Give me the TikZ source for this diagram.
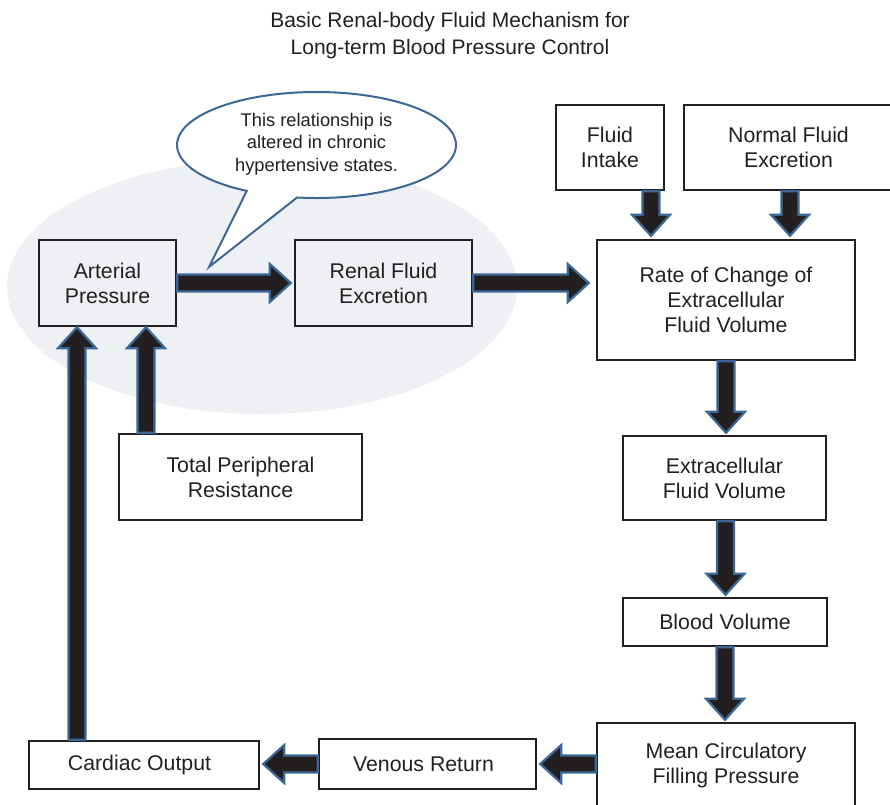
\documentclass[tikz,border=0pt]{standalone}
\usepackage{fontspec}
\setmainfont{Liberation Sans}
\usetikzlibrary{calc}

\definecolor{ink}{HTML}{231F20}
\definecolor{arrowedge}{HTML}{3C6898}
\definecolor{haze}{HTML}{EFF0F3}

\newcommand\boxfont{\fontsize{21.3}{25}\selectfont}
\newcommand\notefont{\fontsize{18.3}{22.5}\selectfont}
\newcommand\headfont{\fontsize{21}{27}\selectfont}

\begin{document}
\begin{tikzpicture}[x=1pt, y=1pt,
  every node/.style={text=ink},
  box/.style={draw=ink, line width=2.4pt, align=center, inner sep=0pt, font=\boxfont},
  % wide block arrow: shaft half-width 8.5, head half-width 19, head length 21
  blockarrow/.style={draw=arrowedge, fill=ink, line width=2.2pt, line join=miter,
    to path={let \p1=(\tikztostart), \p2=(\tikztotarget),
      \n1={veclen(\x2-\x1,\y2-\y1)}, \n2={atan2(\y2-\y1,\x2-\x1)} in
      ([shift={(\p1)},rotate=\n2]0pt,-8.5pt)
      -- ([shift={(\p1)},rotate=\n2]{\n1*1pt-21pt},-8.5pt)
      -- ([shift={(\p1)},rotate=\n2]{\n1*1pt-21pt},-19pt)
      -- ([shift={(\p1)},rotate=\n2]{\n1*1pt},0pt)
      -- ([shift={(\p1)},rotate=\n2]{\n1*1pt-21pt},19pt)
      -- ([shift={(\p1)},rotate=\n2]{\n1*1pt-21pt},8.5pt)
      -- ([shift={(\p1)},rotate=\n2]0pt,8.5pt) -- cycle}},
  callout/.style={fill=white, draw=arrowedge, line width=2pt, line join=miter}
]
\useasboundingbox (0,0) rectangle (890,-804);
\clip (0,0) rectangle (890,-804);

% title
\node[font=\headfont, align=center] (title) at (450,-36)
  {Basic Renal-body Fluid Mechanism for\\Long-term Blood Pressure Control};

% shaded region around the pressure-natriuresis relationship
\fill[haze] (262,-287) ellipse [x radius=255, y radius=127];

% speech bubble
\path[callout] ($(316.5,-145)+(262:139.5 and 53)$)
  arc[start angle=262, end angle=600, x radius=139.5, y radius=53]
  -- (209,-267) -- cycle;
\node[font=\notefont, align=center] (note) at (316.5,-144)
  {This relationship is\\altered in chronic\\hypertensive states.};

% boxes
\node[box, minimum width=137pt, minimum height=86pt] (ap) at (107.5,-283) {Arterial\\Pressure};
\node[box, minimum width=177pt, minimum height=86pt] (rfe) at (383.5,-283) {Renal Fluid\\Excretion};
\node[box, minimum width=258pt, minimum height=120pt] (rate) at (726,-300) {Rate of Change of\\Extracellular\\Fluid Volume};
\node[box, minimum width=108pt, minimum height=85pt] (fi) at (610,-147.5) {Fluid\\Intake};
\node[box, minimum width=209pt, minimum height=85pt] (nfe) at (788.5,-147.5) {Normal Fluid\\Excretion};
\node[box, minimum width=203pt, minimum height=84pt] (ecf) at (724.5,-478) {Extracellular\\Fluid Volume};
\node[box, minimum width=204pt, minimum height=48pt] (bv) at (725,-622) {Blood Volume};
\node[box, minimum width=258pt, minimum height=85pt] (mcfp) at (726,-765.5) {Mean Circulatory\\Filling Pressure};
\node[box, minimum width=217pt, minimum height=50pt] (vr) at (427.5,-764) {Venous Return\hspace{8pt}};
\node[box, minimum width=230pt, minimum height=48pt] (co) at (144,-765) {Cardiac Output\hspace{9pt}};
\node[box, minimum width=243pt, minimum height=86pt] (tpr) at (240.5,-477) {Total Peripheral\\Resistance};

% block arrows
\draw[blockarrow] (ap.east) to ($(rfe.west)+(-3,0)$);
\draw[blockarrow] (rfe.east) to ($(rate.west |- rfe.east)+(-7,0)$);
\draw[blockarrow] ($(fi.south)+(41,0)$) to ($(rate.north -| fi.south)+(41,3)$);
\draw[blockarrow] ($(nfe.south)+(1.5,0)$) to ($(rate.north -| nfe.south)+(1.5,3)$);
\draw[blockarrow] (rate.south) to ($(ecf.north -| rate.south)+(0,2)$);
\draw[blockarrow] ($(ecf.south)+(1,0)$) to ($(bv.north -| ecf.south)+(1,2)$);
\draw[blockarrow] (bv.south) to ($(mcfp.north -| bv.south)+(0,2)$);
\draw[blockarrow] (mcfp.west |- vr.east) to ($(vr.east)+(3,0)$);
\draw[blockarrow] (vr.west) to ($(co.east |- vr.west)+(3,0)$);
\draw[blockarrow] ($(co.north)+(-67,0)$) to ($(ap.south -| co.north)+(-67,0)$);
\draw[blockarrow] ($(tpr.north)+(-94.5,0)$) to ($(ap.south -| tpr.north)+(-94.5,0)$);
\end{tikzpicture}
\end{document}
